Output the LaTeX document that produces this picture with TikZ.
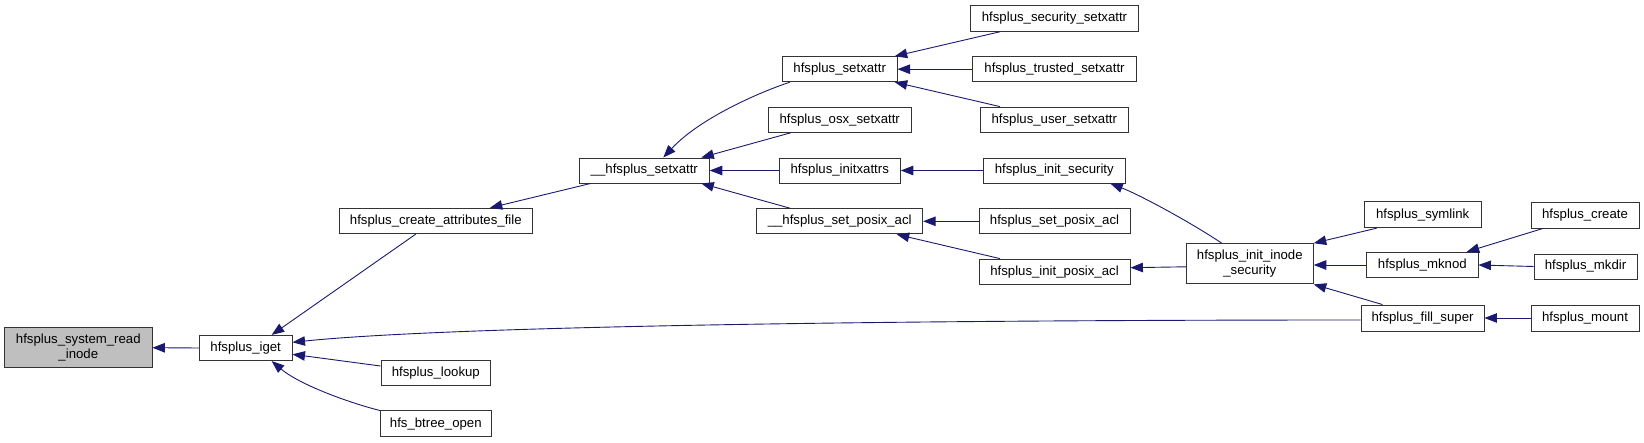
\documentclass[tikz,border=0pt]{standalone}
\usepackage{fontspec}
\setmainfont{Liberation Sans}
\usetikzlibrary{arrows.meta}
\definecolor{edgeblue}{HTML}{191970}
\definecolor{rootgray}{HTML}{BFBFBF}
\begin{document}
\begin{tikzpicture}[x=1pt,y=-1pt,
  fn/.style={draw=black!80,line width=0.9pt,rectangle,inner sep=0pt,
    font=\fontsize{13.2}{15}\selectfont,align=center},
  root/.style={fn,fill=rootgray},
  call/.style={draw=edgeblue,line width=0.9pt,-{Triangle[length=12.5pt,width=9.5pt]}}]
\useasboundingbox (0,0) rectangle (1644,443);
% nodes
\node[root,minimum width=147.3pt,minimum height=40pt] (root) at (78.3,347.7) {hfsplus\_system\_read\\\_inode};
\node[fn,minimum width=92.7pt,minimum height=25.3pt] (iget) at (245.7,348) {hfsplus\_iget};
\node[fn,minimum width=192.3pt,minimum height=25.3pt] (caf) at (435.8,221) {hfsplus\_create\_attributes\_file};
\node[fn,minimum width=109.7pt,minimum height=25.3pt] (lookup) at (435.8,373.3) {hfsplus\_lookup};
\node[fn,minimum width=111pt,minimum height=25.7pt] (btree) at (435.8,423.8) {hfs\_btree\_open};
\node[fn,minimum width=130pt,minimum height=25pt] (hsx) at (644.3,170.5) {\_\_hfsplus\_setxattr};
\node[fn,minimum width=114.7pt,minimum height=25pt] (setx) at (839.7,69.2) {hfsplus\_setxattr};
\node[fn,minimum width=142.7pt,minimum height=25.3pt] (osx) at (839.7,119.7) {hfsplus\_osx\_setxattr};
\node[fn,minimum width=121.3pt,minimum height=25pt] (initx) at (839.7,170.5) {hfsplus\_initxattrs};
\node[fn,minimum width=166pt,minimum height=25.3pt] (hspa) at (839.7,221.3) {\_\_hfsplus\_set\_posix\_acl};
\node[fn,minimum width=168.4pt,minimum height=25.6pt] (sec) at (1054.5,18.5) {hfsplus\_security\_setxattr};
\node[fn,minimum width=163.6pt,minimum height=25pt] (trus) at (1054.5,69.2) {hfsplus\_trusted\_setxattr};
\node[fn,minimum width=147.3pt,minimum height=25.3pt] (user) at (1054.3,119.7) {hfsplus\_user\_setxattr};
\node[fn,minimum width=142pt,minimum height=25pt] (inits) at (1054.3,170.5) {hfsplus\_init\_security};
\node[fn,minimum width=151pt,minimum height=25.3pt] (spa) at (1054.5,221.3) {hfsplus\_set\_posix\_acl};
\node[fn,minimum width=151pt,minimum height=25.3pt] (ipa) at (1054.5,271.7) {hfsplus\_init\_posix\_acl};
\node[fn,minimum width=127pt,minimum height=40.3pt] (iis) at (1249.8,263.8) {hfsplus\_init\_inode\\\_security};
\node[fn,minimum width=116.7pt,minimum height=26pt] (sym) at (1422.7,214.7) {hfsplus\_symlink};
\node[fn,minimum width=111.3pt,minimum height=25.4pt] (mknod) at (1422.3,265) {hfsplus\_mknod};
\node[fn,minimum width=123pt,minimum height=26pt] (fill) at (1422.5,318) {hfsplus\_fill\_super};
\node[fn,minimum width=108pt,minimum height=26pt] (create) at (1585,215) {hfsplus\_create};
\node[fn,minimum width=103pt,minimum height=25pt] (mkdir) at (1585.5,266.5) {hfsplus\_mkdir};
\node[fn,minimum width=108pt,minimum height=26pt] (mount) at (1585,318) {hfsplus\_mount};
% edges
\draw[call] (iget.west) -- (root.east);
\draw[call] ([xshift=-20pt]caf.south) -- ([xshift=26pt]iget.north);
\draw[call] ([yshift=-2pt]fill.west) .. controls (900,320) and (450,326) .. ([yshift=5.7pt]iget.east);
\draw[call] ([yshift=7.3pt]lookup.west) -- ([yshift=-6.3pt]iget.east);
\draw[call] (btree.north west) .. controls (350,403) and (300,385) .. ([xshift=26pt]iget.south);
\draw[call] ([xshift=-53.6pt]hsx.south) -- ([xshift=54pt]caf.north);
\draw[call] ([xshift=-49.7pt]setx.south) .. controls (760,92) and (700,118) .. ([xshift=19pt]hsx.north);
\draw[call] ([xshift=-49pt]osx.south) -- ([xshift=57pt]hsx.north);
\draw[call] (initx.west) -- (hsx.east);
\draw[call] ([xshift=-49.7pt]hspa.north) -- ([xshift=57pt]hsx.south);
\draw[call] ([xshift=-54.5pt]sec.south) -- ([xshift=55pt]setx.north);
\draw[call] (trus.west) -- (setx.east);
\draw[call] ([xshift=-54.3pt]user.north) -- ([xshift=55pt]setx.south);
\draw[call] (inits.west) -- (initx.east);
\draw[call] (spa.west) -- (hspa.east);
\draw[call] ([xshift=-54.5pt]ipa.north) -- ([xshift=57pt]hspa.south);
\draw[call] ([xshift=-28pt]iis.north) .. controls (1190,222) and (1140,195) .. ([xshift=56pt]inits.south);
\draw[call] ([yshift=-3pt]iis.west) -- ([yshift=4pt]ipa.east);
\draw[call] ([xshift=-46pt]sym.south) -- (iis.north east);
\draw[call] (mknod.west) -- (iis.east |- mknod.west);
\draw[call] ([xshift=-40pt]fill.north) -- (iis.south east);
\draw[call] ([xshift=-42pt]create.south) -- ([xshift=44.4pt]mknod.north);
\draw[call] (mkdir.west) -- (mknod.east);
\draw[call] (mount.west) -- (fill.east);
\end{tikzpicture}
\end{document}
